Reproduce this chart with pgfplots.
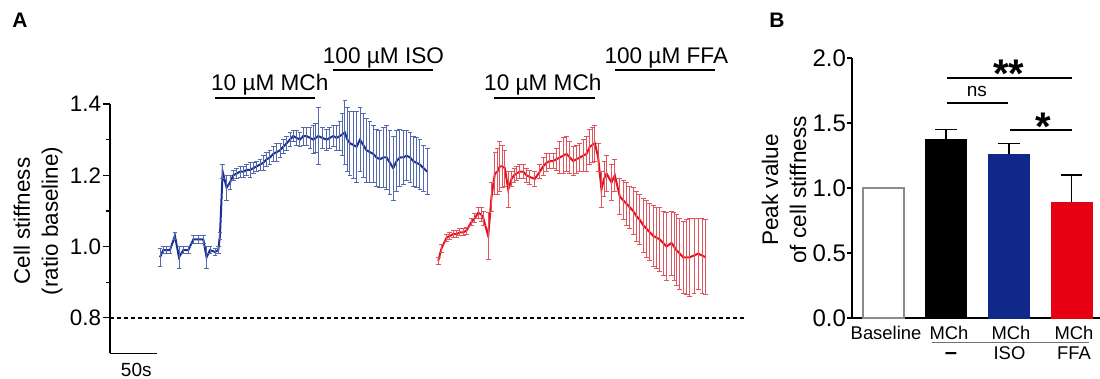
\documentclass[border=0pt]{standalone}
\usepackage{fontspec}
\setmainfont{Liberation Sans}
\usepackage{pgfplots}
\usepackage{pgfplotstable}
\pgfplotsset{compat=1.18}
\definecolor{tblue}{RGB}{28,48,148}
\definecolor{tblueerr}{RGB}{85,105,175}
\definecolor{tred}{RGB}{235,15,30}
\definecolor{trederr}{RGB}{225,85,95}
\definecolor{bblue}{RGB}{16,40,138}
\definecolor{bred}{RGB}{230,0,18}

\pgfplotstableread{
t v e
53.2 0.97 0.025
56.7 0.99 0.01
60.3 0.99 0.01
63.8 0.99 0.01
69.1 1.03 0.01
73.4 0.97 0.03
78.0 0.99 0.01
83.3 0.99 0.01
88.7 1.02 0.01
94.0 1.02 0.01
99.3 1.02 0.01
102.8 0.97 0.03
106.4 0.99 0.01
111.7 0.985 0.01
115.2 0.99 0.01
117.0 1.03 0.01
119.9 1.21 0.02
124.1 1.165 0.035
127.7 1.18 0.02
131.2 1.20 0.015
134.8 1.205 0.015
138.3 1.21 0.015
141.9 1.21 0.015
145.4 1.215 0.015
149.0 1.215 0.02
152.5 1.22 0.015
156.0 1.225 0.015
159.6 1.23 0.015
163.1 1.235 0.02
166.7 1.245 0.02
170.2 1.25 0.02
173.8 1.26 0.02
177.3 1.265 0.025
180.9 1.27 0.02
184.4 1.28 0.02
188.0 1.29 0.02
191.5 1.30 0.02
195.0 1.31 0.015
198.6 1.305 0.02
202.1 1.30 0.02
205.7 1.31 0.025
209.2 1.31 0.025
212.8 1.305 0.03
216.3 1.30 0.04
219.0 1.305 0.04
221.6 1.31 0.08
226.0 1.305 0.03
230.5 1.30 0.03
234.0 1.305 0.03
237.6 1.31 0.03
241.1 1.305 0.035
244.7 1.31 0.04
247.3 1.315 0.06
250.0 1.32 0.09
252.6 1.30 0.09
255.3 1.29 0.09
258.9 1.285 0.095
262.4 1.28 0.10
266.0 1.30 0.09
269.5 1.285 0.09
273.0 1.27 0.09
276.6 1.265 0.085
280.1 1.26 0.08
283.7 1.25 0.08
287.2 1.245 0.08
290.8 1.25 0.085
294.3 1.25 0.09
297.9 1.235 0.09
301.4 1.22 0.09
305.0 1.24 0.085
308.5 1.25 0.08
312.0 1.25 0.075
315.6 1.255 0.07
319.2 1.25 0.07
322.7 1.24 0.07
326.2 1.235 0.07
329.8 1.23 0.07
333.7 1.22 0.065
337.6 1.21 0.065
}\bluetrace

\pgfplotstableread{
t v e
349.3 0.96 0.01
352.8 0.995 0.01
358.2 1.025 0.01
361.7 1.03 0.01
365.2 1.035 0.01
368.8 1.035 0.01
372.3 1.04 0.01
375.9 1.04 0.01
379.4 1.045 0.01
384.8 1.07 0.01
388.3 1.08 0.012
391.8 1.095 0.015
395.0 1.09 0.02
397.2 1.08 0.02
402.5 1.03 0.065
406.0 1.14 0.04
409.6 1.205 0.06
412.2 1.21 0.065
414.9 1.225 0.07
417.5 1.225 0.06
420.2 1.22 0.05
423.8 1.16 0.05
427.3 1.19 0.02
430.0 1.20 0.02
432.6 1.205 0.02
436.2 1.21 0.02
439.7 1.21 0.02
443.3 1.20 0.02
446.8 1.195 0.02
452.1 1.19 0.02
457.4 1.21 0.02
461.0 1.225 0.025
464.5 1.235 0.025
468.0 1.24 0.02
471.6 1.24 0.02
475.1 1.245 0.03
478.7 1.25 0.045
482.2 1.255 0.05
485.8 1.26 0.05
489.4 1.25 0.045
492.9 1.24 0.04
496.4 1.245 0.04
500.0 1.25 0.04
503.6 1.255 0.045
507.1 1.26 0.05
510.6 1.28 0.05
513.3 1.285 0.05
516.0 1.29 0.05
519.5 1.25 0.04
523.0 1.16 0.05
525.7 1.19 0.05
528.4 1.205 0.05
533.7 1.18 0.05
537.2 1.20 0.045
542.6 1.14 0.05
546.1 1.13 0.055
549.6 1.12 0.06
553.2 1.11 0.06
556.7 1.10 0.065
560.3 1.085 0.07
563.8 1.075 0.07
567.4 1.06 0.075
570.9 1.05 0.08
574.5 1.04 0.08
578.0 1.03 0.085
581.6 1.025 0.085
585.1 1.02 0.09
588.7 1.01 0.09
592.2 1.00 0.095
597.5 1.01 0.09
600.2 1.00 0.095
602.8 0.99 0.10
606.4 0.98 0.10
609.9 0.97 0.10
613.5 0.97 0.105
617.0 0.97 0.11
621.5 0.975 0.105
625.9 0.98 0.10
630.0 0.975 0.105
634.0 0.97 0.105
}\redtrace

\begin{document}
\begin{tikzpicture}
\path[use as bounding box] (0,0) rectangle (550pt,189.5pt);

% Panel letters
\node[font=\fontsize{10.5}{12}\selectfont\bfseries] at (10pt,179.5pt) {A};
\node[font=\fontsize{10.5}{12}\selectfont\bfseries] at (388.5pt,179.5pt) {B};

% y labels
\node[rotate=90, align=center, font=\fontsize{11.2}{14}\selectfont] at (19pt,79pt) {Cell stiffness\\(ratio baseline)};
\node[rotate=90, align=center, font=\fontsize{11.3}{14}\selectfont] at (392pt,94.5pt) {Peak value\\of cell stiffness};

% ---------------- Panel A ----------------
\begin{axis}[
  at={(55pt,12.75pt)}, anchor=south west, scale only axis,
  width=319.5pt, height=124.75pt,
  xmin=0, xmax=680, ymin=0.7, ymax=1.4,
  clip=false,
  axis x line=none, axis y line*=left,
  axis line style={-, line width=0.75pt},
  ytick={0.8,1.0,1.2,1.4}, minor ytick={0.9,1.1,1.3},
  tick align=outside, major tick length=3.3pt, minor tick length=2pt,
  every tick/.style={line width=0.6pt, black},
  /pgf/number format/assume math mode=true,
  yticklabel style={/pgf/number format/fixed, /pgf/number format/fixed zerofill,
    /pgf/number format/precision=1, font=\fontsize{11.2}{13}\selectfont, inner sep=1pt},
]
\addplot[tblue, line width=1pt,
  error bars/.cd, y dir=both, y explicit,
  error bar style={line width=0.45pt, tblueerr},
  error mark options={rotate=90, mark size=1.2pt, line width=0.4pt, tblueerr}]
  table[x=t, y=v, y error=e] {\bluetrace};
\addplot[tred, line width=1pt,
  error bars/.cd, y dir=both, y explicit,
  error bar style={line width=0.45pt, trederr},
  error mark options={rotate=90, mark size=1.2pt, line width=0.4pt, trederr}]
  table[x=t, y=v, y error=e] {\redtrace};

\draw[dash pattern=on 2pt off 1.5pt, line width=0.65pt] (axis cs:0,0.8) -- (axis cs:677,0.8);
\draw[line width=0.75pt] (axis cs:0,0.7) -- (axis cs:50,0.7);
\node[anchor=north, inner sep=0pt, yshift=-4.5pt, font=\fontsize{9.5}{11}\selectfont] at (axis cs:28,0.7) {50s};

\draw[line width=0.75pt] (axis cs:112,1.417) -- (axis cs:218,1.417);
\node[anchor=base, yshift=3.5pt, font=\fontsize{11.3}{13}\selectfont] at (axis cs:170,1.417) {10 µM MCh};
\draw[line width=0.75pt] (axis cs:237,1.495) -- (axis cs:344,1.495);
\node[anchor=base, yshift=3.5pt, font=\fontsize{11.3}{13}\selectfont] at (axis cs:291,1.495) {100 µM ISO};
\draw[line width=0.75pt] (axis cs:409,1.417) -- (axis cs:516,1.417);
\node[anchor=base, yshift=3.5pt, font=\fontsize{11.3}{13}\selectfont] at (axis cs:460.6,1.417) {10 µM MCh};
\draw[line width=0.75pt] (axis cs:537,1.495) -- (axis cs:644,1.495);
\node[anchor=base, yshift=3.5pt, font=\fontsize{11.3}{13}\selectfont] at (axis cs:592,1.495) {100 µM FFA};
\end{axis}

% ---------------- Panel B ----------------
\begin{axis}[
  at={(426pt,30.5pt)}, anchor=south west, scale only axis,
  width=124pt, height=130pt,
  xmin=-0.503, xmax=3.455, ymin=0, ymax=2,
  clip=false,
  axis x line*=bottom, axis y line*=left,
  axis line style={-, line width=0.75pt},
  xtick=\empty, ytick={0,0.5,1,1.5,2},
  tick align=outside, major tick length=2.3pt,
  every tick/.style={line width=0.6pt, black},
  /pgf/number format/assume math mode=true,
  yticklabel style={/pgf/number format/fixed, /pgf/number format/fixed zerofill,
    /pgf/number format/precision=1, font=\fontsize{12}{14}\selectfont, inner sep=0.5pt},
]
\addplot[ybar, bar width=0.654, bar shift=0pt, fill=white, draw=black!45, line width=0.6pt]
  coordinates {(0,1.0)};
\addplot[ybar, bar width=0.654, bar shift=0pt, fill=black, draw=black,
  error bars/.cd, y dir=plus, y explicit,
  error bar style={line width=0.7pt, black},
  error mark options={rotate=90, mark size=5.4pt, line width=0.7pt, black}]
  coordinates {(1,1.377) +- (0,0.072)};
\addplot[ybar, bar width=0.654, bar shift=0pt, fill=bblue, draw=bblue,
  error bars/.cd, y dir=plus, y explicit,
  error bar style={line width=0.7pt, black},
  error mark options={rotate=90, mark size=5.4pt, line width=0.7pt, black}]
  coordinates {(2,1.26) +- (0,0.08)};
\addplot[ybar, bar width=0.654, bar shift=0pt, fill=bred, draw=bred,
  error bars/.cd, y dir=plus, y explicit,
  error bar style={line width=0.7pt, black},
  error mark options={rotate=90, mark size=5.4pt, line width=0.7pt, black}]
  coordinates {(3,0.89) +- (0,0.21)};

% significance
\draw[line width=0.75pt] (axis cs:1.013,1.846) -- (axis cs:3.01,1.846);
\node[anchor=base, font=\fontsize{20}{20}\selectfont\bfseries] at (axis cs:2.0,1.77) {**};
\draw[line width=0.75pt] (axis cs:1.013,1.654) -- (axis cs:1.987,1.654);
\node[anchor=base, font=\fontsize{9.5}{11}\selectfont] at (axis cs:1.49,1.70) {ns};
\draw[line width=0.75pt] (axis cs:2.02,1.446) -- (axis cs:3.01,1.446);
\node[anchor=base, font=\fontsize{20}{20}\selectfont\bfseries] at (axis cs:2.545,1.369) {*};

% x labels
\node[anchor=base, font=\fontsize{9.2}{11}\selectfont] at (axis cs:0.04,-0.169) {Baseline};
\node[anchor=base, font=\fontsize{9.2}{11}\selectfont] at (axis cs:1.045,-0.169) {MCh};
\node[anchor=base, font=\fontsize{9.2}{11}\selectfont] at (axis cs:2.035,-0.169) {MCh};
\node[anchor=base, font=\fontsize{9.2}{11}\selectfont] at (axis cs:3.04,-0.169) {MCh};
\draw[line width=0.5pt, black!55] (axis cs:0.774,-0.187) -- (axis cs:3.28,-0.187);
\node[anchor=base, font=\fontsize{11}{12}\selectfont\bfseries] at (axis cs:1.075,-0.323) {–};
\node[anchor=base, font=\fontsize{9.2}{11}\selectfont] at (axis cs:2.01,-0.323) {ISO};
\node[anchor=base, font=\fontsize{9.2}{11}\selectfont] at (axis cs:3.04,-0.323) {FFA};
\end{axis}
\end{tikzpicture}
\end{document}
